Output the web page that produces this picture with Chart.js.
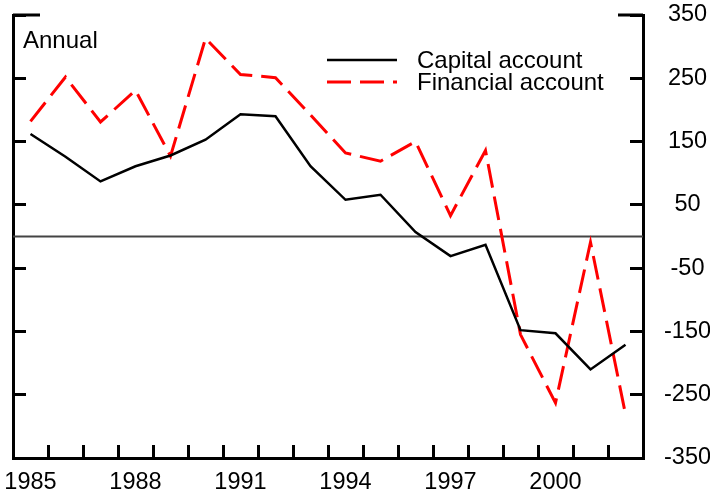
<!DOCTYPE html>
<html>
<head>
<meta charset="utf-8">
<script src="https://cdn.jsdelivr.net/npm/chart.js@4"></script>
<style>
  html, body { margin: 0; padding: 0; background: #fff; }
  #wrap { width: 710px; height: 497px; }
</style>
</head>
<body>
<div id="wrap"><canvas id="c" width="710" height="497"></canvas></div>
<script>
// ---- data ----
const years = ['1985','1986','1987','1988','1989','1990','1991','1992','1993','1994','1995','1996','1997','1998','1999','2000','2001','2002'];
const labeledYears = ['1985','1988','1991','1994','1997','2000'];
const capitalAccount = [162, 126, 87, 111, 128, 153, 193, 190, 111, 58, 66, 7, -31, -13, -148, -153, -210, -171];
const financialAccount = [182, 252, 181, 231, 127, 313, 256, 251, 192, 132, 119, 150, 33, 136, -155, -263, -9, -281];
const seriesNames = ['Capital account', 'Financial account'];
const yMin = -350, yMax = 350, yStep = 100;
const noteText = 'Annual';

const FONT = 'Liberation Sans, Arial, Helvetica, sans-serif';

function zeroPad(s) { s.paddingTop = 0; s.paddingBottom = 0; s.paddingLeft = 0; s.paddingRight = 0; }

const overlay = {
  id: 'overlay',
  beforeDatasetsDraw(chart) {
    const ctx = chart.ctx;
    const area = chart.chartArea;
    const y0 = chart.scales.y.getPixelForValue(0);
    ctx.save();
    ctx.strokeStyle = '#444';
    ctx.lineWidth = 2;
    ctx.beginPath();
    ctx.moveTo(area.left, y0); ctx.lineTo(area.right, y0);
    ctx.stroke();
    ctx.restore();
  },
  afterDraw(chart) {
    const ctx = chart.ctx;
    const area = chart.chartArea;
    const yR = chart.scales.y;
    const topY = yR.getPixelForValue(yMax);
    ctx.save();
    // longer corner ticks at the top of both vertical axes
    ctx.strokeStyle = '#000';
    ctx.lineWidth = 3;
    ctx.setLineDash([]);
    ctx.beginPath();
    ctx.moveTo(area.left, topY); ctx.lineTo(area.left + 27, topY);
    ctx.moveTo(area.right, topY); ctx.lineTo(area.right - 25, topY);
    ctx.stroke();
    // note
    ctx.fillStyle = '#000';
    ctx.font = '24px ' + FONT;
    ctx.textBaseline = 'middle';
    ctx.textAlign = 'left';
    ctx.fillText(noteText, 23, 41);
    // legend
    const rows = [60, 82];
    chart.data.datasets.forEach((ds, i) => {
      const y = rows[i];
      ctx.strokeStyle = ds.borderColor;
      ctx.lineWidth = ds.borderWidth;
      ctx.setLineDash(ds.borderDash || []);
      ctx.beginPath();
      ctx.moveTo(327, y); ctx.lineTo(397, y);
      ctx.stroke();
      ctx.setLineDash([]);
      ctx.fillStyle = '#000';
      ctx.fillText(ds.label, 417, y + 1);
    });
    ctx.restore();
  }
};

new Chart(document.getElementById('c'), {
  type: 'line',
  data: {
    labels: years,
    datasets: [
      { label: seriesNames[0], data: capitalAccount, borderColor: '#000', borderWidth: 2.5,
        pointRadius: 0, tension: 0, fill: false, yAxisID: 'y' },
      { label: seriesNames[1], data: financialAccount, borderColor: '#ff0000', borderWidth: 3,
        borderDash: [24, 9], pointRadius: 0, tension: 0, fill: false, yAxisID: 'y' }
    ]
  },
  options: {
    responsive: false,
    animation: false,
    devicePixelRatio: 1,
    layout: { padding: { top: 15, left: 0, right: 0, bottom: 0 } },
    plugins: { legend: { display: false }, tooltip: { enabled: false }, title: { display: false } },
    scales: {
      x: {
        type: 'category',
        offset: true,
        grid: { offset: true, drawOnChartArea: false, tickLength: -13, tickWidth: 3, tickColor: '#000', color: '#000' },
        border: { display: true, width: 3, color: '#000' },
        ticks: {
          autoSkip: false, maxRotation: 0, minRotation: 0, padding: 23,
          color: '#000', font: { family: FONT, size: 23.5 },
          callback: function(v, i) { const l = this.getLabelForValue(v); return labeledYears.includes(l) ? l : ''; }
        },
        afterFit: s => { s.height = 39; zeroPad(s); }
      },
      y: {
        position: 'right',
        min: yMin, max: yMax,
        grid: { drawOnChartArea: false, tickLength: -13, tickWidth: 3, tickColor: '#000', color: '#000' },
        border: { display: true, width: 3, color: '#000' },
        ticks: { stepSize: yStep, crossAlign: 'center', padding: 34, color: '#000', font: { family: FONT, size: 23.5 } },
        afterFit: s => { s.width = 67; zeroPad(s); }
      },
      yL: {
        position: 'left',
        min: yMin, max: yMax,
        grid: { drawOnChartArea: false, tickLength: -13, tickWidth: 3, tickColor: '#000', color: '#000' },
        border: { display: true, width: 3, color: '#000' },
        ticks: { stepSize: yStep, display: false },
        afterFit: s => { s.width = 13; zeroPad(s); }
      }
    }
  },
  plugins: [overlay]
});
</script>
</body>
</html>
